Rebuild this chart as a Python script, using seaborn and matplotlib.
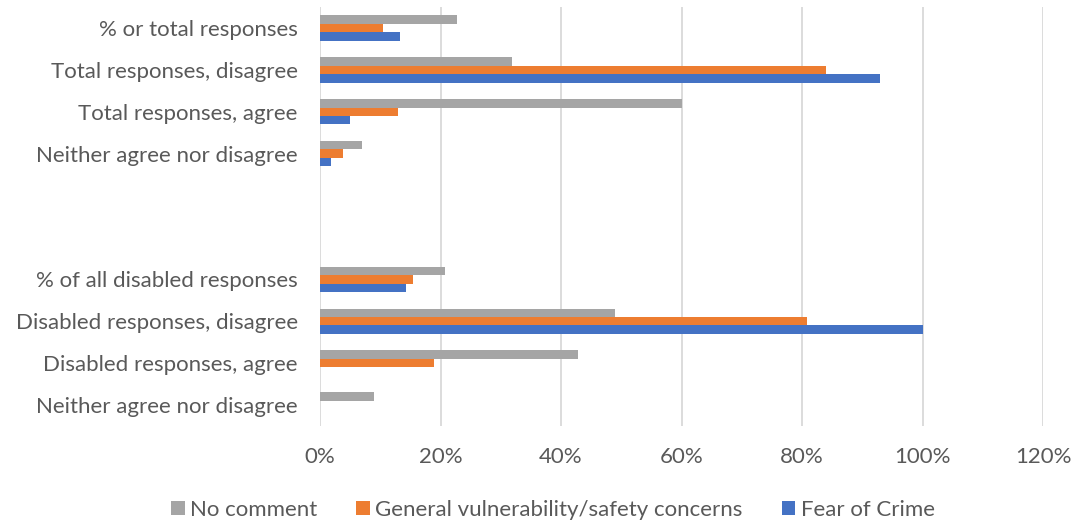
import numpy as np
import pandas as pd
import matplotlib
matplotlib.use("Agg")
import matplotlib.pyplot as plt
import seaborn as sns
from matplotlib.ticker import PercentFormatter, MultipleLocator

# ---- data (percent) ----
categories = [
    "% or total responses",
    "Total responses, disagree",
    "Total responses, agree",
    "Neither agree nor disagree",
    " ",
    "  ",
    "% of all disabled responses",
    "Disabled responses, disagree",
    "Disabled responses, agree",
    "Neither agree nor disagree ",
]
no_comment = [22.7, 31.9, 60.0, 6.9, None, None, 20.8, 48.9, 42.9, 8.9]
general_vuln = [10.4, 84.0, 12.9, 3.9, None, None, 15.4, 80.9, 18.9, 0.0]
fear_of_crime = [13.3, 93.0, 4.9, 1.9, None, None, 14.2, 100.0, 0.0, 0.0]

series_names = ["No comment", "General vulnerability/safety concerns", "Fear of Crime"]
series_values = [no_comment, general_vuln, fear_of_crime]
colors = ["#A5A5A5", "#ED7D31", "#4472C4"]

rows = []
for name, vals in zip(series_names, series_values):
    for cat, v in zip(categories, vals):
        if v is not None:
            rows.append({"category": cat, "series": name, "value": v / 100.0})
df = pd.DataFrame(rows)

sns.set_theme(style="white")
plt.rcParams["font.family"] = ["Lato", "DejaVu Sans"]
text_color = "#595959"
fs = 16

fig = plt.figure(figsize=(10.83, 5.21), dpi=100)
ax = fig.add_axes([320 / 1083, 1 - 426 / 521, (1043 - 320) / 1083, (426 - 7) / 521])

sns.barplot(
    data=df, x="value", y="category", hue="series",
    order=categories, hue_order=series_names, palette=colors, saturation=1,
    orient="h", width=0.607, gap=0, errorbar=None, linewidth=0, ax=ax,
)

ax.set_xlim(0, 1.2)
ax.xaxis.set_major_locator(MultipleLocator(0.2))
ax.xaxis.set_major_formatter(PercentFormatter(1.0, decimals=0))
ax.set_yticks(range(len(categories)))
ax.set_yticklabels([c.strip() for c in categories])
ax.set_xlabel("")
ax.set_ylabel("")
ax.grid(axis="x", color="#D9D9D9", linewidth=1.3)
ax.grid(axis="y", visible=False)
ax.set_axisbelow(True)
for s in ax.spines.values():
    s.set_visible(False)
ax.tick_params(axis="both", length=0, labelsize=fs, labelcolor=text_color)
ax.tick_params(axis="y", pad=16)
ax.tick_params(axis="x", pad=15)

handles, labels = ax.get_legend_handles_labels()
ax.get_legend().remove()
fig.legend(
    handles, labels, loc="center", bbox_to_anchor=(553 / 1083, 1 - 510 / 521),
    ncol=3, frameon=False, fontsize=fs, labelcolor=text_color,
    handlelength=0.6, handleheight=0.6, handletextpad=0.25, columnspacing=1.75,
)

fig.savefig("out.png", dpi=100)
